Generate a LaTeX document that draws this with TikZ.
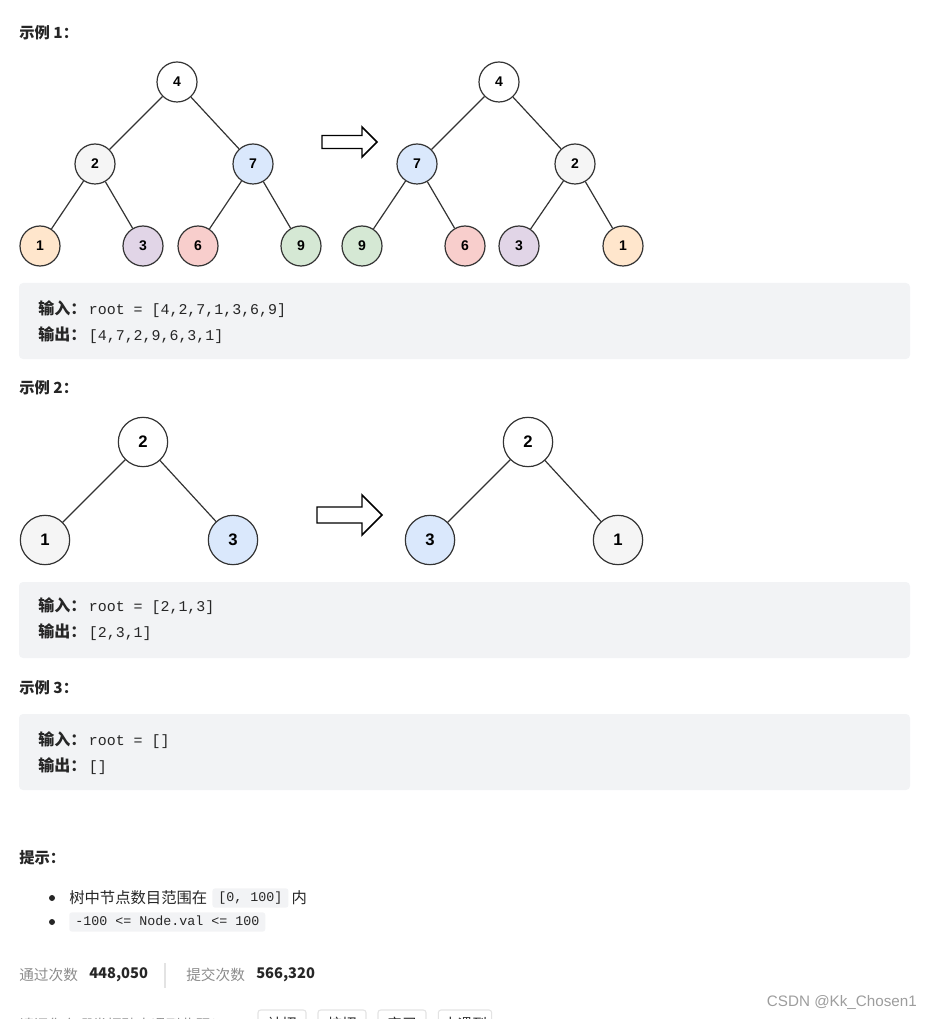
\documentclass[tikz,border=0pt]{standalone}
\usepackage{fontspec}
\setmainfont{Noto Sans CJK SC}
\setmonofont{Liberation Mono}
\newfontfamily\digitfont{Liberation Sans}
\usetikzlibrary{positioning}
\definecolor{ink}{HTML}{262626}
\definecolor{muted}{HTML}{8C8C8C}
\definecolor{edgegray}{HTML}{333333}
\definecolor{codebg}{HTML}{F2F3F5}
\definecolor{rulegray}{HTML}{E3E3E3}
\definecolor{leaforange}{HTML}{FFE6CC}
\definecolor{leafpurple}{HTML}{E1D5E7}
\definecolor{leafred}{HTML}{F8CECC}
\definecolor{leafgreen}{HTML}{D5E8D4}
\definecolor{nodeblue}{HTML}{DAE8FC}
\definecolor{nodegray}{HTML}{F5F5F5}
\newcommand{\codetag}[1]{{\bfseries\fontsize{12}{14}\selectfont #1}\hspace{2pt}}

\begin{document}
\begin{tikzpicture}[x=0.75pt, y=-0.75pt,
  tnode/.style={circle, draw=edgegray, line width=0.9pt, fill=#1,
                minimum size=30pt, inner sep=0pt,
                font=\digitfont\bfseries\fontsize{10.5}{12}\selectfont},
  tnode/.default=white,
  bignode/.style={tnode=#1, minimum size=37pt,
                  font=\digitfont\bfseries\fontsize{12.5}{14}\selectfont},
  bignode/.default=white,
  link/.style={draw=edgegray, line width=0.9pt},
  swap/.style={draw=black, line width=1.1pt, fill=white, line join=miter},
  title/.style={anchor=west, inner sep=0pt, text=ink,
                font=\bfseries\fontsize{11.5}{14}\selectfont},
  codebox/.style={fill=codebg, rounded corners=3pt},
  code/.style={anchor=west, inner sep=0pt, text=ink,
               font=\fontsize{11.2}{13}\selectfont},
  plain/.style={anchor=west, inner sep=0pt, text=ink,
                font=\fontsize{11.5}{14}\selectfont},
  chip/.style={fill=codebg, rounded corners=2pt, inner xsep=4.5pt,
               inner ysep=2.5pt, text=ink, text height=7.5pt, text depth=2pt,
               font=\ttfamily\fontsize{10}{12}\selectfont},
  stat/.style={anchor=west, inner sep=0pt, text=muted,
               font=\fontsize{11}{13}\selectfont},
  count/.style={anchor=west, inner sep=0pt, text=ink,
                font=\bfseries\fontsize{11}{13}\selectfont},
  pick/.style={draw=rulegray, line width=0.8pt, rounded corners=2pt,
               minimum width=36pt, minimum height=21pt, text=ink,
               font=\fontsize{11}{13}\selectfont},
]
\useasboundingbox (0,0) rectangle (931,1019);

% example 1
\node[title] (ex1) at (19,33) {示例 1：};
\node[tnode] (a4) at (177,82) {4};
\node[tnode=nodegray] (a2) at (95,164) {2};
\node[tnode=nodeblue] (a7) at (253,164) {7};
\node[tnode=leaforange] (a1) at (40,246) {1};
\node[tnode=leafpurple] (a3) at (143,246) {3};
\node[tnode=leafred] (a6) at (198,246) {6};
\node[tnode=leafgreen] (a9) at (301,246) {9};
\draw[link] (a4) -- (a2);
\draw[link] (a4) -- (a7);
\draw[link] (a2) -- (a1);
\draw[link] (a2) -- (a3);
\draw[link] (a7) -- (a6);
\draw[link] (a7) -- (a9);
\draw[swap] (322,135.5) -- (362,135.5) -- (362,127) -- (377,142)
  -- (362,157) -- (362,148.5) -- (322,148.5) -- cycle;
\node[tnode] (b4) at (499,82) {4};
\node[tnode=nodeblue] (b7) at (417,164) {7};
\node[tnode=nodegray] (b2) at (575,164) {2};
\node[tnode=leafgreen] (b9) at (362,246) {9};
\node[tnode=leafred] (b6) at (465,246) {6};
\node[tnode=leafpurple] (b3) at (519,246) {3};
\node[tnode=leaforange] (b1) at (623,246) {1};
\draw[link] (b4) -- (b7);
\draw[link] (b4) -- (b2);
\draw[link] (b7) -- (b9);
\draw[link] (b7) -- (b6);
\draw[link] (b2) -- (b3);
\draw[link] (b2) -- (b1);
\fill[codebox] (19,283) rectangle (910,359);
\node[code] (in1) at (38,309) {\codetag{输入：}\texttt{root = [4,2,7,1,3,6,9]}};
\node[code] (out1) at (38,335) {\codetag{输出：}\texttt{[4,7,2,9,6,3,1]}};

% example 2
\node[title] (ex2) at (19,388) {示例 2：};
\node[bignode] (c2) at (143,442) {2};
\node[bignode=nodegray] (c1) at (45,540) {1};
\node[bignode=nodeblue] (c3) at (233,540) {3};
\draw[link] (c2) -- (c1);
\draw[link] (c2) -- (c3);
\draw[swap] (317,507) -- (362,507) -- (362,495) -- (382,515)
  -- (362,535) -- (362,523) -- (317,523) -- cycle;
\node[bignode] (d2) at (528,442) {2};
\node[bignode=nodeblue] (d3) at (430,540) {3};
\node[bignode=nodegray] (d1) at (618,540) {1};
\draw[link] (d2) -- (d3);
\draw[link] (d2) -- (d1);
\fill[codebox] (19,582) rectangle (910,658);
\node[code] (in2) at (38,606) {\codetag{输入：}\texttt{root = [2,1,3]}};
\node[code] (out2) at (38,632) {\codetag{输出：}\texttt{[2,3,1]}};

% example 3
\node[title] (ex3) at (19,688) {示例 3：};
\fill[codebox] (19,714) rectangle (910,790);
\node[code] (in3) at (38,740) {\codetag{输入：}\texttt{root = []}};
\node[code] (out3) at (38,766) {\codetag{输出：}\texttt{[]}};

% hints
\node[title] (hint) at (19,858) {提示：};
\fill[ink] (52,898) circle (3);
\fill[ink] (52,922) circle (3);
\node[plain] (h1) at (69,898) {树中节点数目范围在};
\node[chip, right=3.5pt of h1] (h1c) {[0, 100]};
\node[plain, right=2pt of h1c] (h1e) {内};
\node[chip, anchor=west] (h2c) at (69,922) {-100 <= Node.val <= 100};

% counts
\node[stat] (pass) at (19,975) {通过次数};
\node[count] (passn) at (89,975) {448,050};
\draw[draw=rulegray, line width=1pt] (165,963) -- (165,988);
\node[stat] (sub) at (186,975) {提交次数};
\node[count] (subn) at (256,975) {566,320};
\node[anchor=east, inner sep=0pt, text=muted!85,
      font=\digitfont\fontsize{11.4}{13}\selectfont] (mark) at (917,1002)
  {CSDN @Kk\_Chosen1};

% cut-off last line
\node[stat] (ask) at (19,1025) {请问您在哪类招聘中遇到此题？};
\node[pick] (p1) at (282,1024) {社招};
\node[pick] (p2) at (342,1024) {校招};
\node[pick] (p3) at (402,1024) {实习};
\node[pick, minimum width=40pt] (p4) at (465,1024) {未遇到};
\end{tikzpicture}
\end{document}
